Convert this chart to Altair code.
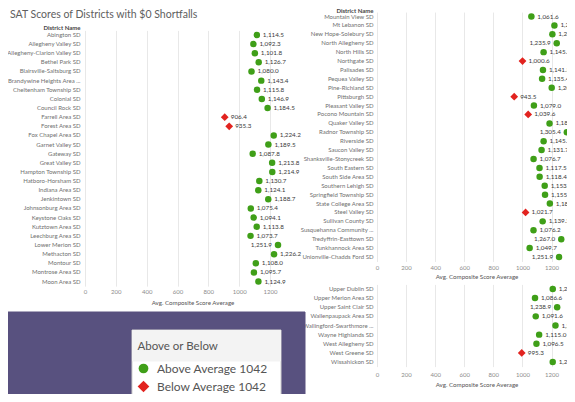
import altair as alt
import pandas as pd

# ---------------- data ----------------
TITLE = "SAT Scores of Districts with $0 Shortfalls"
X_TITLE = "Avg. Composite Score Average"
AVERAGE = 1042
STATUS = ["Above Average 1042", "Below Average 1042"]
X_TICKS = [0, 200, 400, 600, 800, 1000, 1200]

left_districts = [
    "Abington SD", "Allegheny Valley SD", "Allegheny-Clarion Valley SD", "Bethel Park SD",
    "Blairsville-Saltsburg SD", "Brandywine Heights Area ...", "Cheltenham Township SD",
    "Colonial SD", "Council Rock SD", "Farrell Area SD", "Forest Area SD", "Fox Chapel Area SD",
    "Garnet Valley SD", "Gateway SD", "Great Valley SD", "Hampton Township SD",
    "Hatboro-Horsham SD", "Indiana Area SD", "Jenkintown SD", "Johnsonburg Area SD",
    "Keystone Oaks SD", "Kutztown Area SD", "Leechburg Area SD", "Lower Merion SD",
    "Methacton SD", "Montour SD", "Montrose Area SD", "Moon Area SD",
]
left_scores = [
    1114.5, 1092.3, 1101.8, 1126.7, 1080.0, 1143.4, 1115.8, 1146.9, 1184.5, 906.4,
    935.3, 1224.2, 1189.5, 1087.8, 1213.8, 1214.9, 1130.7, 1124.1, 1188.7, 1075.4,
    1094.1, 1113.8, 1073.7, 1251.9, 1226.2, 1108.0, 1095.7, 1124.9,
]

top_right_districts = [
    "Mountain View SD", "Mt Lebanon SD", "New Hope-Solebury SD", "North Allegheny SD",
    "North Hills SD", "Northgate SD", "Palisades SD", "Pequea Valley SD", "Pine-Richland SD",
    "Pittsburgh SD", "Pleasant Valley SD", "Pocono Mountain SD", "Quaker Valley SD",
    "Radnor Township SD", "Riverside SD", "Saucon Valley SD", "Shanksville-Stonycreek SD",
    "South Eastern SD", "South Side Area SD", "Southern Lehigh SD", "Springfield Township SD",
    "State College Area SD", "Steel Valley SD", "Sullivan County SD",
    "Susquehanna Community ...", "Tredyffrin-Easttown SD", "Tunkhannock Area SD",
    "Unionville-Chadds Ford SD",
]
top_right_scores = [
    1061.6, 1220.0, 1206.0, 1235.9, 1145.6, 1000.6, 1141.3, 1135.4, 1201.4, 943.5,
    1079.0, 1039.6, 1186.5, 1305.4, 1145.8, 1131.7, 1076.7, 1117.5, 1118.4, 1153.3,
    1155.6, 1188.7, 1021.7, 1139.2, 1076.2, 1267.0, 1049.7, 1251.9,
]

bottom_right_districts = [
    "Upper Dublin SD", "Upper Merion Area SD", "Upper Saint Clair SD", "Wallenpaupack Area SD",
    "Wallingford-Swarthmore ...", "Wayne Highlands SD", "West Allegheny SD", "West Greene SD",
    "Wissahickon SD",
]
bottom_right_scores = [1208.6, 1086.6, 1238.9, 1091.6, 1227.3, 1115.0, 1096.5, 995.3, 1208.4]

# ---------------- style / layout ----------------
W, H = 559, 386
FONT = "Lato"
GREEN = "#3f9f18"
RED = "#e2231f"
PURPLE = "#58517f"
DIAMOND = "M-1.2,0L0,-1.2L1.2,0L0,1.2Z"
LABEL_LEFT_ABOVE = 1230   # values this high get their label on the left of the mark

legend = alt.Legend(
    title="Above or Below", orient="none", legendX=129.5, legendY=333, padding=0,
    titleFontSize=11.5, titleFontWeight="normal", titleColor="#555555", titleFont=FONT,
    titlePadding=10, labelFontSize=12, labelColor="#555555", labelFont=FONT,
    labelOffset=7.5, symbolSize=95, rowPadding=6, symbolStrokeWidth=0, zindex=1,
)
X_TITLE_STYLE = dict(fontSize=6.2, font=FONT, color="#555555")


def panel(districts, scores, y_range, x_range, label_right, tick_y, title_x, title_y, header_y=None):
    """Returns the list of layers (points + value labels + axis title) of one dashboard panel."""
    df = pd.DataFrame({"district": districts, "score": scores})
    base = alt.Chart(df).transform_calculate(
        status=f"datum.score >= {AVERAGE} ? '{STATUS[0]}' : '{STATUS[1]}'"
    )
    xs = alt.Scale(domain=[0, 1200], range=list(x_range), nice=False, zero=False)
    ys = alt.Scale(type="band", domain=districts, range=list(y_range), paddingInner=0, paddingOuter=0)
    x_axis = alt.Axis(
        orient="top", offset=-tick_y, values=X_TICKS, format="d", grid=True, gridColor="#e8e8e8",
        gridWidth=1, domain=False, ticks=False, tickSize=0, labelPadding=0, labelBaseline="middle",
        labelFlush=False, labelFontSize=6, labelColor="#8c8c8c", labelFont=FONT, title=None,
    )
    y_common = dict(
        orient="left", offset=-label_right, domain=False, ticks=False, tickSize=0,
        labelPadding=0, grid=False, labelFontSize=6, labelColor="#707070", labelFont=FONT,
        labelBaseline="middle",
    )
    if header_y is not None:
        y_axis = alt.Axis(
            title="District Name", titleX=0, titleY=header_y, titleAngle=0, titleAlign="right",
            titleBaseline="middle", titleFontSize=6, titleFontWeight="bold", titleColor="#444444",
            titleFont=FONT, **y_common,
        )
    else:
        y_axis = alt.Axis(title=None, **y_common)

    points = base.mark_point(filled=True, size=42, opacity=1).encode(
        x=alt.X("score:Q", scale=xs, axis=x_axis),
        y=alt.Y("district:N", scale=ys, axis=y_axis, sort=None),
        color=alt.Color("status:N", scale=alt.Scale(domain=STATUS, range=[GREEN, RED]), legend=legend),
        shape=alt.Shape("status:N", scale=alt.Scale(domain=STATUS, range=["circle", DIAMOND]), legend=legend),
    )
    enc = dict(
        x=alt.X("score:Q", scale=xs, axis=None),
        y=alt.Y("district:N", scale=ys, axis=None, sort=None),
        text=alt.Text("score:Q", format=",.1f"),
    )
    txt_style = dict(baseline="middle", fontSize=6.3, font=FONT, color="#3a3a3a")
    right_lbl = base.transform_filter(f"datum.score <= {LABEL_LEFT_ABOVE}").mark_text(
        align="left", dx=6, **txt_style).encode(**enc)
    left_lbl = base.transform_filter(f"datum.score > {LABEL_LEFT_ABOVE}").mark_text(
        align="right", dx=-6, **txt_style).encode(**enc)
    axis_title = alt.Chart(pd.DataFrame({"t": [X_TITLE], "panel": [title_x + title_y]})).mark_text(
        align="center", baseline="middle", **X_TITLE_STYLE
    ).encode(x=alt.value(title_x), y=alt.value(title_y), text="t:N")
    return [points, right_lbl, left_lbl, axis_title]


# dashboard background pieces (chart pixel coordinates)
deco = pd.DataFrame({
    "x0": [0, 124, 124.5], "x1": [297, 273, 272.5],
    "y0": [304, 322, 322.5], "y1": [392, 392, 353],
    "fill": [PURPLE, "#ffffff", "#f3f3f3"], "stroke": [PURPLE, "#cfcfcf", "#f3f3f3"],
})
deco_layer = alt.Chart(deco).mark_rect(strokeWidth=1).encode(
    x=alt.X("x0:Q", scale=None), x2="x1:Q",
    y=alt.Y("y0:Q", scale=None), y2="y1:Q",
    fill=alt.Fill("fill:N", scale=None), stroke=alt.Stroke("stroke:N", scale=None),
)

title_layer = alt.Chart(pd.DataFrame({"t": [TITLE]})).mark_text(
    align="left", baseline="alphabetic", font=FONT, fontSize=10.5, color="#606060"
).encode(x=alt.value(2), y=alt.value(10), text="t:N")

left_panel = panel(left_districts, left_scores, (22.4, 278.1), (77, 262),
                   label_right=72, tick_y=283, title_x=185, title_y=295, header_y=19)
top_right_panel = panel(top_right_districts, top_right_scores, (4.05, 253.45), (369, 543.5),
                        label_right=365, tick_y=259, title_x=469, title_y=269, header_y=2)
bottom_right_panel = panel(bottom_right_districts, bottom_right_scores, (276.4, 358.6), (369, 543.5),
                           label_right=365, tick_y=366, title_x=469, title_y=376.5)

chart = alt.layer(
    deco_layer, title_layer, *left_panel, *top_right_panel, *bottom_right_panel
).resolve_scale(
    x="independent", y="independent"
).resolve_axis(
    x="independent", y="independent"
).properties(
    width=W, height=H, padding=0, background="#ffffff",
    autosize=alt.AutoSizeParams(type="none"),
).configure_view(strokeWidth=0)

chart.save("out.html", embed_options={"renderer": "svg", "actions": False})
